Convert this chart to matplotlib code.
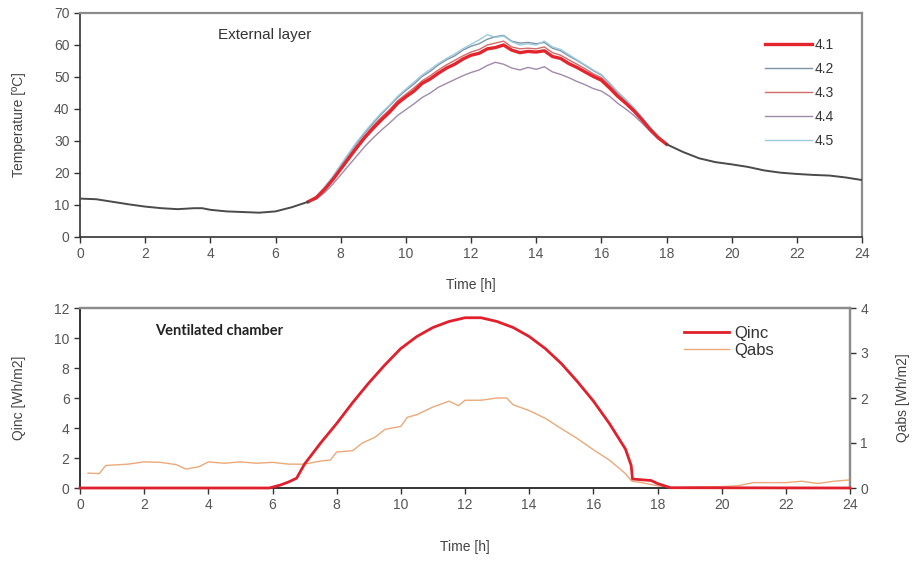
import numpy as np
import matplotlib
matplotlib.use("Agg")
import matplotlib.pyplot as plt

plt.rcParams['font.family'] = ['Liberation Sans', 'DejaVu Sans']

# ---------------- Data: top panel (external layer temperature) ----------------
hours_morning = [0, 0.5, 1, 1.5, 2, 2.5, 3, 3.5, 3.75, 4, 4.5, 5, 5.5, 6, 6.5, 7]
temp_morning = [12.0, 11.8, 11.0, 10.2, 9.5, 9.0, 8.7, 9.0, 9.0, 8.5, 8.0, 7.8, 7.6, 8.0, 9.3, 11.0]

hours_day = [7.25, 7.5, 7.75, 8.0, 8.25, 8.5, 8.75, 9.0, 9.25, 9.5, 9.75, 10.0, 10.25, 10.5,
             10.75, 11.0, 11.25, 11.5, 11.75, 12.0, 12.25, 12.5, 12.75, 13.0, 13.25, 13.5,
             13.75, 14.0, 14.25, 14.5, 14.75, 15.0, 15.25, 15.5, 15.75, 16.0, 16.25, 16.5,
             16.75, 17.0, 17.25, 17.5, 17.75]
temp_41 = [12.3, 14.8, 17.8, 21.2, 24.6, 28.0, 31.2, 34.0, 36.6, 39.0, 41.8, 43.8, 45.6, 48.0,
           49.4, 51.2, 52.8, 54.0, 55.6, 56.8, 57.4, 58.8, 59.2, 60.0, 58.4, 57.6,
           58.0, 57.8, 58.2, 56.4, 55.8, 54.2, 53.0, 51.6, 50.2, 49.0, 46.6, 44.0,
           41.8, 39.4, 36.6, 33.6, 31.0]
temp_42 = [12.6, 15.4, 18.6, 22.2, 25.8, 29.4, 32.6, 35.6, 38.4, 41.0, 43.6, 45.8, 47.8, 50.2,
           51.8, 53.8, 55.4, 56.6, 58.4, 59.6, 60.4, 61.8, 62.6, 63.0, 61.2, 60.6,
           60.8, 60.4, 60.8, 59.0, 58.2, 56.6, 55.2, 53.6, 52.0, 50.6, 48.0, 45.2,
           42.8, 40.2, 37.2, 34.0, 31.2]
temp_43 = [12.4, 15.0, 18.2, 21.6, 25.2, 28.6, 31.8, 34.8, 37.4, 39.8, 42.6, 44.6, 46.6, 48.8,
           50.4, 52.2, 53.8, 55.2, 56.6, 57.8, 58.6, 60.0, 60.6, 61.2, 59.4, 58.8,
           59.0, 58.8, 59.4, 57.6, 56.8, 55.4, 54.0, 52.6, 51.0, 49.8, 47.4, 44.6,
           42.2, 39.8, 37.0, 33.8, 31.0]
temp_44 = [11.8, 13.8, 16.4, 19.4, 22.4, 25.4, 28.4, 31.0, 33.4, 35.6, 38.0, 39.8, 41.6, 43.6,
           45.0, 46.8, 48.0, 49.2, 50.4, 51.4, 52.2, 53.6, 54.6, 54.0, 52.8, 52.2,
           53.0, 52.4, 53.2, 51.6, 50.8, 49.8, 48.6, 47.6, 46.4, 45.6, 44.0, 41.8,
           40.0, 38.0, 35.6, 33.0, 30.6]
temp_45 = [12.7, 15.6, 18.8, 22.6, 26.2, 29.8, 33.0, 36.0, 38.8, 41.2, 44.0, 46.2, 48.4, 50.6,
           52.4, 54.2, 55.8, 57.2, 58.8, 60.2, 61.6, 63.2, 62.4, 62.8, 61.0, 60.0,
           60.4, 60.0, 61.2, 59.4, 58.6, 57.0, 55.4, 53.8, 52.2, 50.8, 48.2, 45.4,
           43.0, 40.4, 37.4, 34.2, 31.4]

hours_evening = [18, 18.5, 19, 19.5, 20, 20.5, 21, 21.5, 22, 22.5, 23, 23.5, 24]
temp_evening = [29.0, 26.6, 24.6, 23.4, 22.7, 21.9, 20.8, 20.1, 19.7, 19.4, 19.2, 18.6, 17.8]

series_labels = ['4.1', '4.2', '4.3', '4.4', '4.5']

# ---------------- Data: bottom panel (ventilated chamber) ----------------
qinc_hours = [0, 5.9, 6.25, 6.5, 6.75, 7.0, 7.5, 8.0, 8.5, 9.0, 9.5, 10.0, 10.5, 11.0, 11.5,
              12.0, 12.5, 13.0, 13.5, 14.0, 14.5, 15.0, 15.5, 16.0, 16.5, 17.0, 17.18,
              17.22, 17.5, 17.8, 18.0, 18.4, 24]
qinc = [0, 0, 0.2, 0.4, 0.65, 1.6, 3.0, 4.3, 5.7, 7.0, 8.2, 9.3, 10.1, 10.7, 11.1,
        11.35, 11.35, 11.1, 10.7, 10.1, 9.3, 8.3, 7.1, 5.8, 4.3, 2.6, 1.5,
        0.6, 0.55, 0.5, 0.3, 0.02, 0]

qabs_hours = [0.25, 0.6, 0.8, 1.5, 2, 2.5, 3, 3.3, 3.7, 4, 4.5, 5, 5.5, 6, 6.5, 7, 7.5, 7.8,
              8.0, 8.5, 8.8, 9.2, 9.5, 10.0, 10.2, 10.5, 11.0, 11.5, 11.8, 12.0, 12.5, 13.0,
              13.3, 13.5, 14.0, 14.5, 15.0, 15.5, 16.0, 16.5, 17.0, 17.2, 17.5, 18.0, 18.5,
              19, 20, 20.5, 21, 22, 22.5, 23, 23.5, 24]
qabs = [0.33, 0.32, 0.50, 0.53, 0.58, 0.57, 0.52, 0.42, 0.47, 0.58, 0.55, 0.58, 0.55, 0.57,
        0.53, 0.53, 0.60, 0.62, 0.80, 0.83, 1.00, 1.13, 1.30, 1.37, 1.57, 1.63, 1.80, 1.93,
        1.83, 1.95, 1.95, 2.00, 2.00, 1.85, 1.72, 1.55, 1.32, 1.10, 0.85, 0.62, 0.32, 0.15,
        0.12, 0.05, 0.00, 0.02, 0.03, 0.05, 0.12, 0.12, 0.15, 0.10, 0.15, 0.18]

# ---------------- Figure ----------------
fig = plt.figure(figsize=(9.13, 5.64), dpi=100)
ax1 = fig.add_axes([80/913, 1-237/564, (862-80)/913, (237-13)/564])
ax2 = fig.add_axes([80/913, 1-488/564, (850-80)/913, (488-308)/564])

tick_col = '#555555'

def style(ax):
    for s in ['top', 'right']:
        ax.spines[s].set_color('#8c8c8c')
        ax.spines[s].set_linewidth(1.6)
    for s in ['left', 'bottom']:
        ax.spines[s].set_color('#333333')
        ax.spines[s].set_linewidth(1.2)
    ax.tick_params(direction='out', length=4, width=1, colors='#333333',
                   labelcolor=tick_col, labelsize=10)

# top panel
temps = [temp_41, temp_42, temp_43, temp_44, temp_45]
colors = ['#e3262e', '#7f93a8', '#d46a6a', '#a08aaa', '#9ccbe0']
widths = [2.4, 1.0, 1.0, 1.0, 1.0]
order = [1, 4, 3, 2, 0]
lines = {}
for i in order:
    x = [hours_morning[-1]] + hours_day + [hours_evening[0]]
    y = [temp_morning[-1]] + temps[i] + [temp_evening[0]]
    ln, = ax1.plot(x, y, color=colors[i], lw=widths[i], zorder=3 + (i == 0))
    lines[i] = ln
ax1.plot(hours_morning, temp_morning, color='#4a4a4a', lw=1.4, zorder=5)
ax1.plot(hours_evening, temp_evening, color='#4a4a4a', lw=1.4, zorder=5)

ax1.set_xlim(0, 24)
ax1.set_ylim(0, 70)
ax1.set_xticks(range(0, 25, 2))
ax1.set_yticks(range(0, 71, 10))
style(ax1)
ax1.set_xlabel('Time [h]', fontsize=10, color='#444444', labelpad=12)
ax1.set_ylabel('Temperature [ºC]', fontsize=10, color='#444444', labelpad=20)
ax1.text(218, 564 - 35, 'External layer', transform=None, fontsize=11,
         color='#333333', va='center')
ax1.legend([lines[i] for i in range(5)], series_labels, loc='upper left',
           bbox_to_anchor=(0.86, 0.945), frameon=False, fontsize=10,
           handlelength=3.4, handletextpad=0.2, labelspacing=0.72,
           labelcolor='#333333')

# bottom panel
l_inc, = ax2.plot(qinc_hours, qinc, color='#e0202c', lw=2.0, zorder=4, clip_on=False)
ax2.set_xlim(0, 24)
ax2.set_ylim(0, 12)
ax2.set_xticks(range(0, 25, 2))
ax2.set_yticks(range(0, 13, 2))
style(ax2)
ax2.set_xlabel('Time [h]', fontsize=10, color='#444444', labelpad=20)
ax2.set_ylabel('Qinc [Wh/m2]', fontsize=10, color='#444444', labelpad=20)
ax2.text(155, 564 - 331, 'Ventilated chamber', transform=None, fontsize=10.5,
         fontweight='bold', color='#222222', family=['Lato', 'DejaVu Sans'], va='center')

ax3 = ax2.twinx()
l_abs, = ax3.plot(qabs_hours, qabs, color='#eba97a', lw=1.0, zorder=3)
ax3.set_ylim(0, 4)
ax3.set_yticks(range(0, 5))
style(ax3)
ax3.set_ylabel('Qabs [Wh/m2]', fontsize=10, color='#444444', labelpad=20)
ax2.set_zorder(ax3.get_zorder() + 1)
ax2.patch.set_visible(False)

ax2.legend([l_inc, l_abs], ['Qinc', 'Qabs'], loc='upper left',
           bbox_to_anchor=(0.765, 0.985), frameon=False, fontsize=12,
           handlelength=2.7, handletextpad=0.3, labelspacing=0.15,
           labelcolor='#333333')

fig.savefig('out.png', dpi=100)
